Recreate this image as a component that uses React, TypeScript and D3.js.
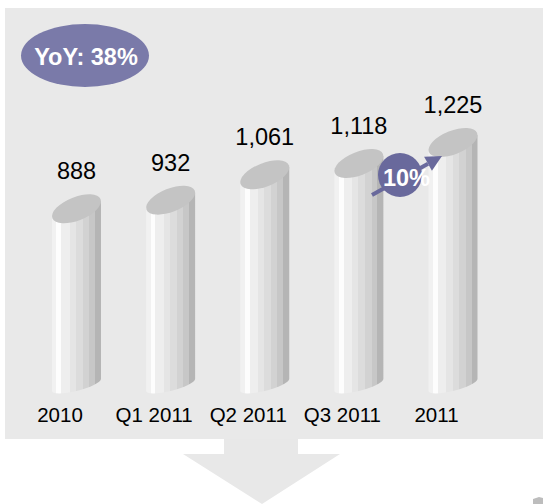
import React from 'react';
import * as d3 from 'd3';

// chart data
const categories = ['2010', 'Q1 2011', 'Q2 2011', 'Q3 2011', '2011'];
const values = [888, 932, 1061, 1118, 1225];
const yoyLabel = 'YoY: 38%';
const growthLabel = '10%';

const W = 543;
const H = 504;
const FONT = '"Liberation Sans", Arial, sans-serif';

// body stripes, left -> right
const stripeStops = [0, 0.09, 0.19, 0.36, 0.49, 0.63, 0.76, 0.88, 1];
const stripeColors = ['#f1f1f1', '#fdfdfd', '#eeeeee', '#e5e5e5', '#dcdcdc', '#d2d2d2', '#c7c7c7', '#b5b5b5'];

// tilted ellipse from half-width, edge offset and thickness
function ellipseParams(hw: number, dy: number, h: number) {
  const cxx = hw * hw;
  const cxy = -hw * dy;
  const cyy = dy * dy + h * h;
  const tr = cxx + cyy;
  const det = cxx * cyy - cxy * cxy;
  const disc = Math.sqrt(tr * tr / 4 - det);
  const l1 = tr / 2 + disc;
  const l2 = tr / 2 - disc;
  const angle = (Math.atan2(l1 - cxx, cxy) * 180) / Math.PI;
  return { rx: Math.sqrt(l1), ry: Math.sqrt(l2), angle };
}

export default function App() {
  const x = d3.scalePoint<string>().domain(categories).range([60, 436.5]);
  const y = d3.scaleLinear().domain([0, 1225]).range([391, 150]);
  const fmt = d3.format(',');

  const hw = 24.5; // bar half width
  const barShift = 16.5; // 3d offset of bars from the category labels
  const topDy = 7.5;
  const topE = ellipseParams(hw, topDy, 12.4);
  const botDy = 6;
  const botE = ellipseParams(hw, botDy, 6);
  const topRise = Math.sqrt(topDy * topDy + 12.4 * 12.4);

  const gradStops: { off: number; color: string }[] = [];
  stripeColors.forEach((c, i) => {
    gradStops.push({ off: stripeStops[i], color: c });
    gradStops.push({ off: stripeStops[i + 1], color: c });
  });

  const arrowStart: [number, number] = [372, 195];
  const arrowTip: [number, number] = [442, 156];
  const ang = Math.atan2(arrowTip[1] - arrowStart[1], arrowTip[0] - arrowStart[0]);
  const headLen = 16;
  const headW = 8;
  const hb: [number, number] = [arrowTip[0] - headLen * Math.cos(ang), arrowTip[1] - headLen * Math.sin(ang)];
  const head = [
    arrowTip,
    [hb[0] + headW * Math.sin(ang), hb[1] - headW * Math.cos(ang)],
    [hb[0] - headW * Math.sin(ang), hb[1] + headW * Math.cos(ang)],
  ];

  return (
    <svg
      width={W}
      height={H}
      style={{ position: 'absolute', left: 0, top: 0, background: '#ffffff' }}
      fontFamily={FONT}
    >
      <defs>
        <linearGradient id="stripes" x1="0" x2="1" y1="0" y2="0">
          {gradStops.map((s, i) => (
            <stop key={i} offset={s.off} stopColor={s.color} />
          ))}
        </linearGradient>
      </defs>

      {/* panel */}
      <rect x={5} y={8} width={538} height={431} fill="#e9e9e9" />

      {/* down arrow below the panel */}
      <path d="M224,439 L298,439 L298,454 L340,454 L262,504 L183,454 L224,454 Z" fill="#e8e8e8" />
      <path d="M533,499 L539,497 L543,498 L543,504 L533,504 Z" fill="#bdbdbd" />

      {/* cylinders */}
      {categories.map((c, i) => {
        const cx = (x(c) as number) + barShift;
        const leftTop = y(values[i]);
        const cyT = leftTop - topDy;
        const cyB = y(0) - botDy;
        const body =
          `M${cx - hw},${cyT + topDy} L${cx - hw},${cyB + botDy} ` +
          `A${botE.rx},${botE.ry} ${botE.angle} 0 0 ${cx + hw},${cyB - botDy} ` +
          `L${cx + hw},${cyT - topDy} Z`;
        return (
          <g key={c}>
            <path d={body} fill="url(#stripes)" />
            <ellipse
              rx={topE.rx}
              ry={topE.ry}
              transform={`translate(${cx},${cyT}) rotate(${topE.angle})`}
              fill="#c4c4c4"
            />
            <text
              x={cx}
              y={cyT - topRise - 15}
              textAnchor="middle"
              fontSize={23.5}
              fill="#000"
            >
              {fmt(values[i])}
            </text>
            <text x={x(c)} y={422} textAnchor="middle" fontSize={20.5} fill="#000">
              {c}
            </text>
          </g>
        );
      })}

      {/* YoY badge */}
      <ellipse cx={85} cy={55.5} rx={64} ry={31.5} fill="#7a7aa9" />
      <text x={86} y={65} textAnchor="middle" fontSize={23.5} fontWeight="bold" fill="#ffffff">
        {yoyLabel}
      </text>

      {/* growth badge with arrow */}
      <line
        x1={arrowStart[0]}
        y1={arrowStart[1]}
        x2={hb[0]}
        y2={hb[1]}
        stroke="#69699c"
        strokeWidth={4}
      />
      <circle cx={400} cy={175} r={22} fill="#69699c" />
      <polygon points={head.map((p) => p.join(',')).join(' ')} fill="#69699c" />
      <text x={406.5} y={186} textAnchor="middle" fontSize={23.5} fontWeight="bold" fill="#ffffff">
        {growthLabel}
      </text>
    </svg>
  );
}
